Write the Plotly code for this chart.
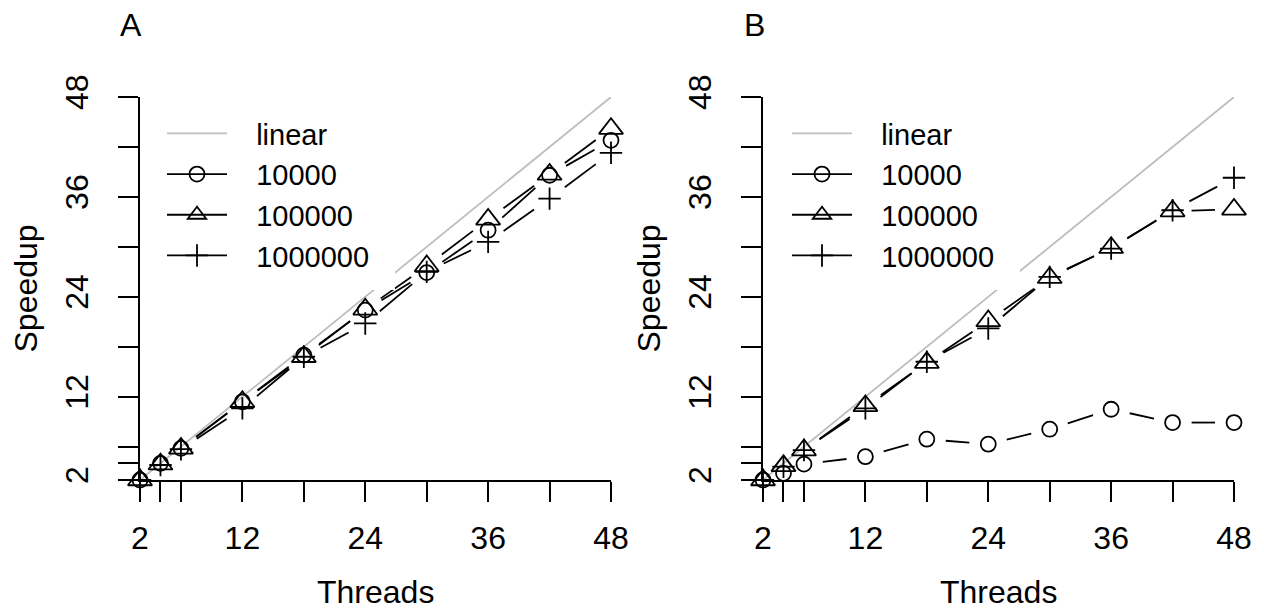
import math
import plotly.graph_objects as go

# ---------------- data ----------------
threads = [2, 4, 6, 12, 18, 24, 30, 36, 42, 48]
linear = [2, 4, 6, 12, 18, 24, 30, 36, 42, 48]

a_10000 = [2, 4.0, 5.8, 11.4, 17.0, 22.4, 26.9, 32.0, 38.6, 42.8]
a_100000 = [2, 3.9, 5.8, 11.4, 16.8, 22.5, 27.7, 33.3, 38.7, 44.2]
a_1000000 = [2, 3.8, 5.7, 10.6, 16.8, 20.8, 27.0, 30.6, 35.8, 41.3]

b_10000 = [2, 2.8, 3.9, 4.8, 6.9, 6.3, 8.1, 10.5, 8.9, 8.9]
b_100000 = [2, 3.7, 5.6, 10.9, 16.1, 21.1, 26.3, 29.9, 34.3, 34.5]
b_1000000 = [2, 3.6, 5.6, 10.6, 16.2, 20.2, 26.4, 29.8, 34.4, 38.3]

series_names = ["10000", "100000", "1000000"]
linear_name = "linear"
panel_labels = ["A", "B"]
tick_vals = [2, 4, 6, 12, 18, 24, 30, 36, 42, 48]
tick_text = ["2", "", "", "12", "", "24", "", "36", "", "48"]
x_title = "Threads"
y_title = "Speedup"

# ---------------- layout geometry ----------------
OFF = 8                      # page body margin
W, H = 1264 - OFF, 614 - OFF


def fx(px):  # screen px -> paper x
    return (px - OFF) / W


def fy(py):  # screen px -> paper y
    return (H - (py - OFF)) / H


X_DOM_A = [fx(140), fx(611)]
X_DOM_B = [fx(763), fx(1234)]
Y_DOM = [fy(480), fy(97)]
AX_RANGE = [2, 48]

PX_X = (611 - 140) / (AX_RANGE[1] - AX_RANGE[0])
PX_Y = (480 - 97) / (AX_RANGE[1] - AX_RANGE[0])
GAP = 19  # px gap around points (R type = "b")

FONT = "Liberation Sans, Arial, Helvetica, sans-serif"
FS = 32
LEG_FS = 29
LW = 1.8
symbols = ["circle-open", "triangle-up-open", "cross-thin-open"]
sizes = [15, 21, 16]
PAD = "\u00a0\u00a0\u00a0"  # space between legend symbol and label


def b_segments(xs, ys):
    sx, sy = [], []
    for i in range(len(xs) - 1):
        ddx = xs[i + 1] - xs[i]
        ddy = ys[i + 1] - ys[i]
        dist = math.hypot(ddx * PX_X, ddy * PX_Y)
        if dist > 2 * GAP:
            f = GAP / dist
            sx += [xs[i] + f * ddx, xs[i + 1] - f * ddx, None]
            sy += [ys[i] + f * ddy, ys[i + 1] - f * ddy, None]
    return sx, sy


fig = go.Figure()

panels = [
    ("x", "y", "legend", [a_10000, a_100000, a_1000000]),
    ("x2", "y2", "legend2", [b_10000, b_100000, b_1000000]),
]

for xa, ya, lg, data in panels:
    fig.add_trace(go.Scatter(
        x=threads, y=linear, mode="lines", name=PAD + linear_name,
        line=dict(color="#bebebe", width=LW), xaxis=xa, yaxis=ya,
        legend=lg, showlegend=True, hoverinfo="skip", cliponaxis=False))
    for vals, name, sym, sz in zip(data, series_names, symbols, sizes):
        sx, sy = b_segments(threads, vals)
        fig.add_trace(go.Scatter(
            x=sx, y=sy, mode="lines", line=dict(color="black", width=LW),
            xaxis=xa, yaxis=ya, showlegend=False, hoverinfo="skip",
            connectgaps=False, cliponaxis=False))
        fig.add_trace(go.Scatter(
            x=threads, y=vals, mode="markers", name=name,
            marker=dict(symbol=sym, size=sz, color="black",
                        line=dict(color="black", width=LW)),
            xaxis=xa, yaxis=ya, showlegend=False, cliponaxis=False))
        # legend entry (line through symbol, like R's legend)
        fig.add_trace(go.Scatter(
            x=[None], y=[None], mode="lines+markers", name=PAD + name,
            line=dict(color="black", width=LW),
            marker=dict(symbol=sym, size=sz, color="black",
                        line=dict(color="black", width=LW)),
            xaxis=xa, yaxis=ya, legend=lg, showlegend=True))

axis_common = dict(
    range=AX_RANGE, showgrid=False, zeroline=False, showline=True,
    linecolor="black", linewidth=LW, ticks="outside", ticklen=20,
    tickwidth=LW, tickcolor="black", tickmode="array",
    tickvals=tick_vals, ticktext=tick_text, automargin=False,
    tickfont=dict(family=FONT, size=FS, color="black"),
)

legend_common = dict(
    xanchor="left", yanchor="top", bgcolor="white", borderwidth=0,
    itemwidth=60, font=dict(family=FONT, size=LEG_FS, color="black"),
)

fig.update_layout(
    width=W, height=H, margin=dict(l=0, r=0, t=0, b=0, autoexpand=False),
    paper_bgcolor="white", plot_bgcolor="white",
    font=dict(family=FONT, size=FS, color="black"),
    xaxis=dict(domain=X_DOM_A, anchor="y", ticklabelstandoff=9, **axis_common),
    yaxis=dict(domain=Y_DOM, anchor="x", tickangle=-90, ticklabelstandoff=17, **axis_common),
    xaxis2=dict(domain=X_DOM_B, anchor="y2", ticklabelstandoff=9, **axis_common),
    yaxis2=dict(domain=Y_DOM, anchor="x2", tickangle=-90, ticklabelstandoff=17, **axis_common),
    legend=dict(x=fx(162), y=fy(108), **legend_common),
    legend2=dict(x=fx(787), y=fy(108), **legend_common),
    showlegend=True,
)

# white legend background boxes (as R's legend box hides the linear line)
shapes = []
for x0, x1 in [(150, 395), (775, 1020)]:
    shapes.append(dict(type="rect", xref="paper", yref="paper",
                       x0=fx(x0), x1=fx(x1), y0=fy(290), y1=fy(98),
                       fillcolor="white", line=dict(width=0), layer="above"))
fig.update_layout(shapes=shapes)

annots = []
for lab, xpx, cx in zip(panel_labels, [131, 755], [375.5, 998.5]):
    annots.append(dict(text=lab, x=fx(xpx), y=fy(25), xref="paper", yref="paper",
                       xanchor="center", yanchor="middle", showarrow=False,
                       font=dict(family=FONT, size=FS, color="black")))
    annots.append(dict(text=x_title, x=fx(cx), y=fy(592), xref="paper", yref="paper",
                       xanchor="center", yanchor="middle", showarrow=False,
                       font=dict(family=FONT, size=FS, color="black")))
for ypx, xpx in [(288.5, 25), (288.5, 648)]:
    annots.append(dict(text=y_title, x=fx(xpx), y=fy(ypx), xref="paper", yref="paper",
                       xanchor="center", yanchor="middle", showarrow=False, textangle=-90,
                       borderpad=0,
                       font=dict(family=FONT, size=FS, color="black")))
fig.update_layout(annotations=annots)

fig.write_html("out.html")
